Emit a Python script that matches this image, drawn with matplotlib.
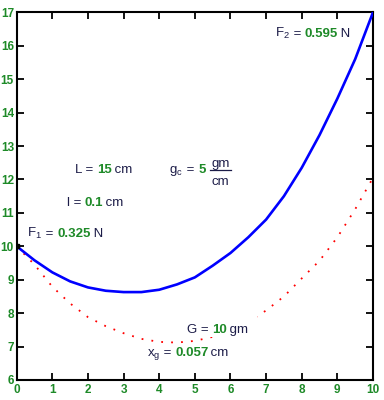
import matplotlib
matplotlib.use("Agg")
import matplotlib.pyplot as plt
import matplotlib.transforms as mtransforms
from matplotlib.lines import Line2D

# ---- data ----
x_vals = [0, 0.5, 1, 1.5, 2, 2.5, 3, 3.5, 4, 4.5, 5, 5.5, 6, 6.5, 7, 7.5, 8, 8.5, 9, 9.5, 10]
blue_y = [10.0, 9.58, 9.22, 8.95, 8.77, 8.67, 8.63, 8.63, 8.70, 8.86, 9.07, 9.42, 9.80,
          10.27, 10.80, 11.50, 12.35, 13.33, 14.42, 15.60, 17.0]
red_y = [10.0, 9.45, 8.79, 8.29, 7.88, 7.61, 7.40, 7.23, 7.14, 7.12, 7.17, 7.29, 7.48,
         7.74, 8.08, 8.50, 9.04, 9.57, 10.27, 11.11, 12.05]
x_ticks = list(range(0, 11))
y_ticks = list(range(6, 18))

DARK = '#1c1c48'
GREEN = '#1e8a28'
FONT = 'Liberation Sans'
FS = 9.5

fig = plt.figure(figsize=(3.84, 4.0), dpi=100)
ax = fig.add_axes([16.7/384, 1-380/400, (373-16.7)/384, (380-12.3)/400])
ax.set_xlim(0, 10)
ax.set_ylim(6, 17)

ax.plot(x_vals, red_y, color='red', lw=1.3, linestyle=(0, (1, 4.5)), zorder=2)
ax.plot(x_vals, blue_y, color='#0000ff', lw=1.9, zorder=3,
        marker='s', markevery=[0], ms=3.5, mfc='black', mec='black')

ax.set_xticks(x_ticks)
ax.set_yticks(y_ticks)
ax.set_xticklabels([str(v) for v in x_ticks], fontfamily=FONT, fontweight='bold',
                   fontsize=8.5, color=GREEN)
ax.set_yticklabels([str(v) for v in y_ticks], fontfamily=FONT, fontweight='bold',
                   fontsize=8.5, color=GREEN)
ax.tick_params(direction='in', length=5, width=1.3, top=True, right=True)
ax.tick_params(axis='x', pad=3)
ax.tick_params(axis='y', pad=2)
for s in ax.spines.values():
    s.set_linewidth(1.5)

renderer = fig.canvas.get_renderer()


def put(x, y, s, color, weight, dx=0.0, dy=0.0, size=FS):
    tr = mtransforms.offset_copy(ax.transData, fig=fig, x=dx, y=dy, units='dots')
    t = ax.text(x, y, s, transform=tr, color=color, fontweight=weight,
                fontfamily=FONT, fontsize=size, va='baseline', ha='left', zorder=5)
    return t, t.get_window_extent(renderer).width


def rich(x, y, parts):
    dx = 0.0
    for s, color, weight in parts:
        if s.startswith('#gap'):
            dx += float(s[4:])
            continue
        _, w = put(x, y, s, color, weight, dx=dx)
        dx += w
    return dx


def backing(x0, y0, x1, y1):
    ax.add_patch(plt.Rectangle((x0, y0), x1 - x0, y1 - y0, facecolor='white',
                               edgecolor='none', zorder=4))


rich(1.64, 12.19, [("L = ", DARK, 'normal'), ("15", GREEN, 'bold'), ("\u2009cm", DARK, 'normal')])
rich(1.40, 11.21, [("l = ", DARK, 'normal'), ("0.1", GREEN, 'bold'), ("\u2009cm", DARK, 'normal')])
rich(0.30, 10.27, [(r"F$\mathregular{_1}$", DARK, 'normal'), (" = ", DARK, 'normal'),
                   ("0.325", GREEN, 'bold'), ("\u2009N", DARK, 'normal')])
# g_c = 5 gm/cm with a stacked fraction
gx, gy = 4.28, 12.19
dx = rich(gx, gy, [(r"g$\mathregular{_c}$", DARK, 'normal'), (" = ", DARK, 'normal'),
                   ("5", GREEN, 'bold'), ("#gap5", None, None)])
_, w_top = put(gx, gy, "gm", DARK, 'normal', dx=dx + 1, dy=6.5)
_, w_bot = put(gx, gy, "cm", DARK, 'normal', dx=dx + 1, dy=-11.5)
wf = max(w_top, w_bot) + 2
x0_disp = ax.transData.transform((gx, gy))
ax.add_line(Line2D([x0_disp[0] + dx, x0_disp[0] + dx + wf], [x0_disp[1] + 3.2] * 2,
                   transform=None, color=DARK, lw=0.9, zorder=5))

rich(7.25, 16.25, [(r"F$\mathregular{_2}$", DARK, 'normal'), (" = ", DARK, 'normal'),
                   ("0.595", GREEN, 'bold'), ("\u2009N", DARK, 'normal')])
backing(4.7, 7.3, 6.75, 7.95)
rich(4.79, 7.40, [("G = ", DARK, 'normal'), ("10", GREEN, 'bold'), ("\u2009gm", DARK, 'normal')])
rich(3.65, 6.72, [(r"x$\mathregular{_g}$", DARK, 'normal'), (" = ", DARK, 'normal'),
                  ("0.057", GREEN, 'bold'), ("\u2009cm", DARK, 'normal')])

fig.savefig('out.png', dpi=100)
